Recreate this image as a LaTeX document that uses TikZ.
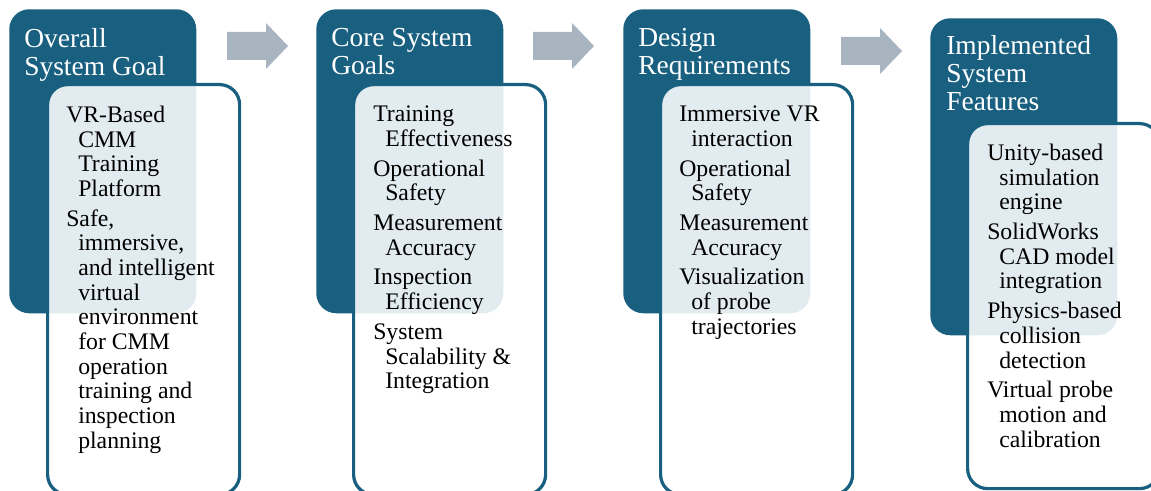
\documentclass[tikz,border=0pt]{standalone}
\usepackage{fontspec}
\setmainfont{Liberation Serif}

\definecolor{stageblue}{RGB}{24,95,128}
\definecolor{arrowgray}{RGB}{168,180,191}

% hanging indent for wrapped lines of a list entry
\newcommand\contline{\hspace*{9pt}}

\begin{document}
\begin{tikzpicture}[x=0.75pt,y=-0.75pt,
    headbox/.style={fill=stageblue, rounded corners=15pt, anchor=north west,
        inner sep=0, minimum width=140.25pt, minimum height=228pt},
    listbox/.style={draw=stageblue, line width=2.4pt, fill=white, fill opacity=0.88,
        rounded corners=15pt, anchor=north west, inner sep=0,
        minimum width=144pt, minimum height=307.5pt},
    headtext/.style={anchor=north west, inner sep=0, align=left, text=white,
        font=\fontsize{20.6}{21}\selectfont},
    listtext/.style={anchor=north west, inner sep=0, align=left,
        font=\fontsize{17.8}{18.5}\selectfont}]
    \useasboundingbox (0,0) rectangle (1151,491);
    \clip (0,0) rectangle (1151,491);

    % block arrows between the stages
    \foreach \x/\y in {227/23, 533/23, 841/28}
        \fill[arrowgray] (\x,\y+9) -- (\x+39,\y+9) -- (\x+39,\y) -- (\x+61,\y+23)
            -- (\x+39,\y+46) -- (\x+39,\y+37) -- (\x,\y+37) -- cycle;

    % stage heads
    \node[headbox] (goalhead) at (9,9) {};
    \node[headbox] (corehead) at (316,9) {};
    \node[headbox] (reqhead) at (623,9) {};
    \node[headbox, minimum height=237.75pt] (feathead) at (930,18) {};

    % lists, laid over the heads
    \node[listbox] (goallist) at (46,83) {};
    \node[listbox] (corelist) at (352,83) {};
    \node[listbox] (reqlist) at (659,83) {};
    \node[listbox, minimum height=273.75pt] (featlist) at (966,122) {};

    \node[headtext] (goaltitle) at (24,28.2) {Overall\\System Goal};
    \node[headtext] (coretitle) at (331,28.2) {Core System\\Goals};
    \node[headtext] (reqtitle) at (638,28.2) {Design\\Requirements};
    \node[headtext] (feattitle) at (946,35.2) {Implemented\\System\\Features};

    \node[listtext] (goaltext) at (66,105.8) {VR-Based\\ \contline CMM\\ \contline Training\\ \contline Platform\\[3.8pt]
        Safe,\\ \contline immersive,\\ \contline and intelligent\\ \contline virtual\\ \contline environment\\
        \contline for CMM\\ \contline operation\\ \contline training and\\ \contline inspection\\ \contline planning};
    \node[listtext] (coretext) at (373,105.8) {Training\\ \contline Effectiveness\\[3.8pt]
        Operational\\ \contline Safety\\[3.8pt]
        Measurement\\ \contline Accuracy\\[3.8pt]
        Inspection\\ \contline Efficiency\\[3.8pt]
        System\\ \contline Scalability \&\\ \contline Integration};
    \node[listtext] (reqtext) at (679,105.8) {Immersive VR\\ \contline interaction\\[3.8pt]
        Operational\\ \contline Safety\\[3.8pt]
        Measurement\\ \contline Accuracy\\[3.8pt]
        Visualization\\ \contline of probe\\ \contline trajectories};
    \node[listtext] (feattext) at (987,143.8) {Unity-based\\ \contline simulation\\ \contline engine\\[3.8pt]
        SolidWorks\\ \contline CAD model\\ \contline integration\\[3.8pt]
        Physics-based\\ \contline collision\\ \contline detection\\[3.8pt]
        Virtual probe\\ \contline motion and\\ \contline calibration};
\end{tikzpicture}
\end{document}
